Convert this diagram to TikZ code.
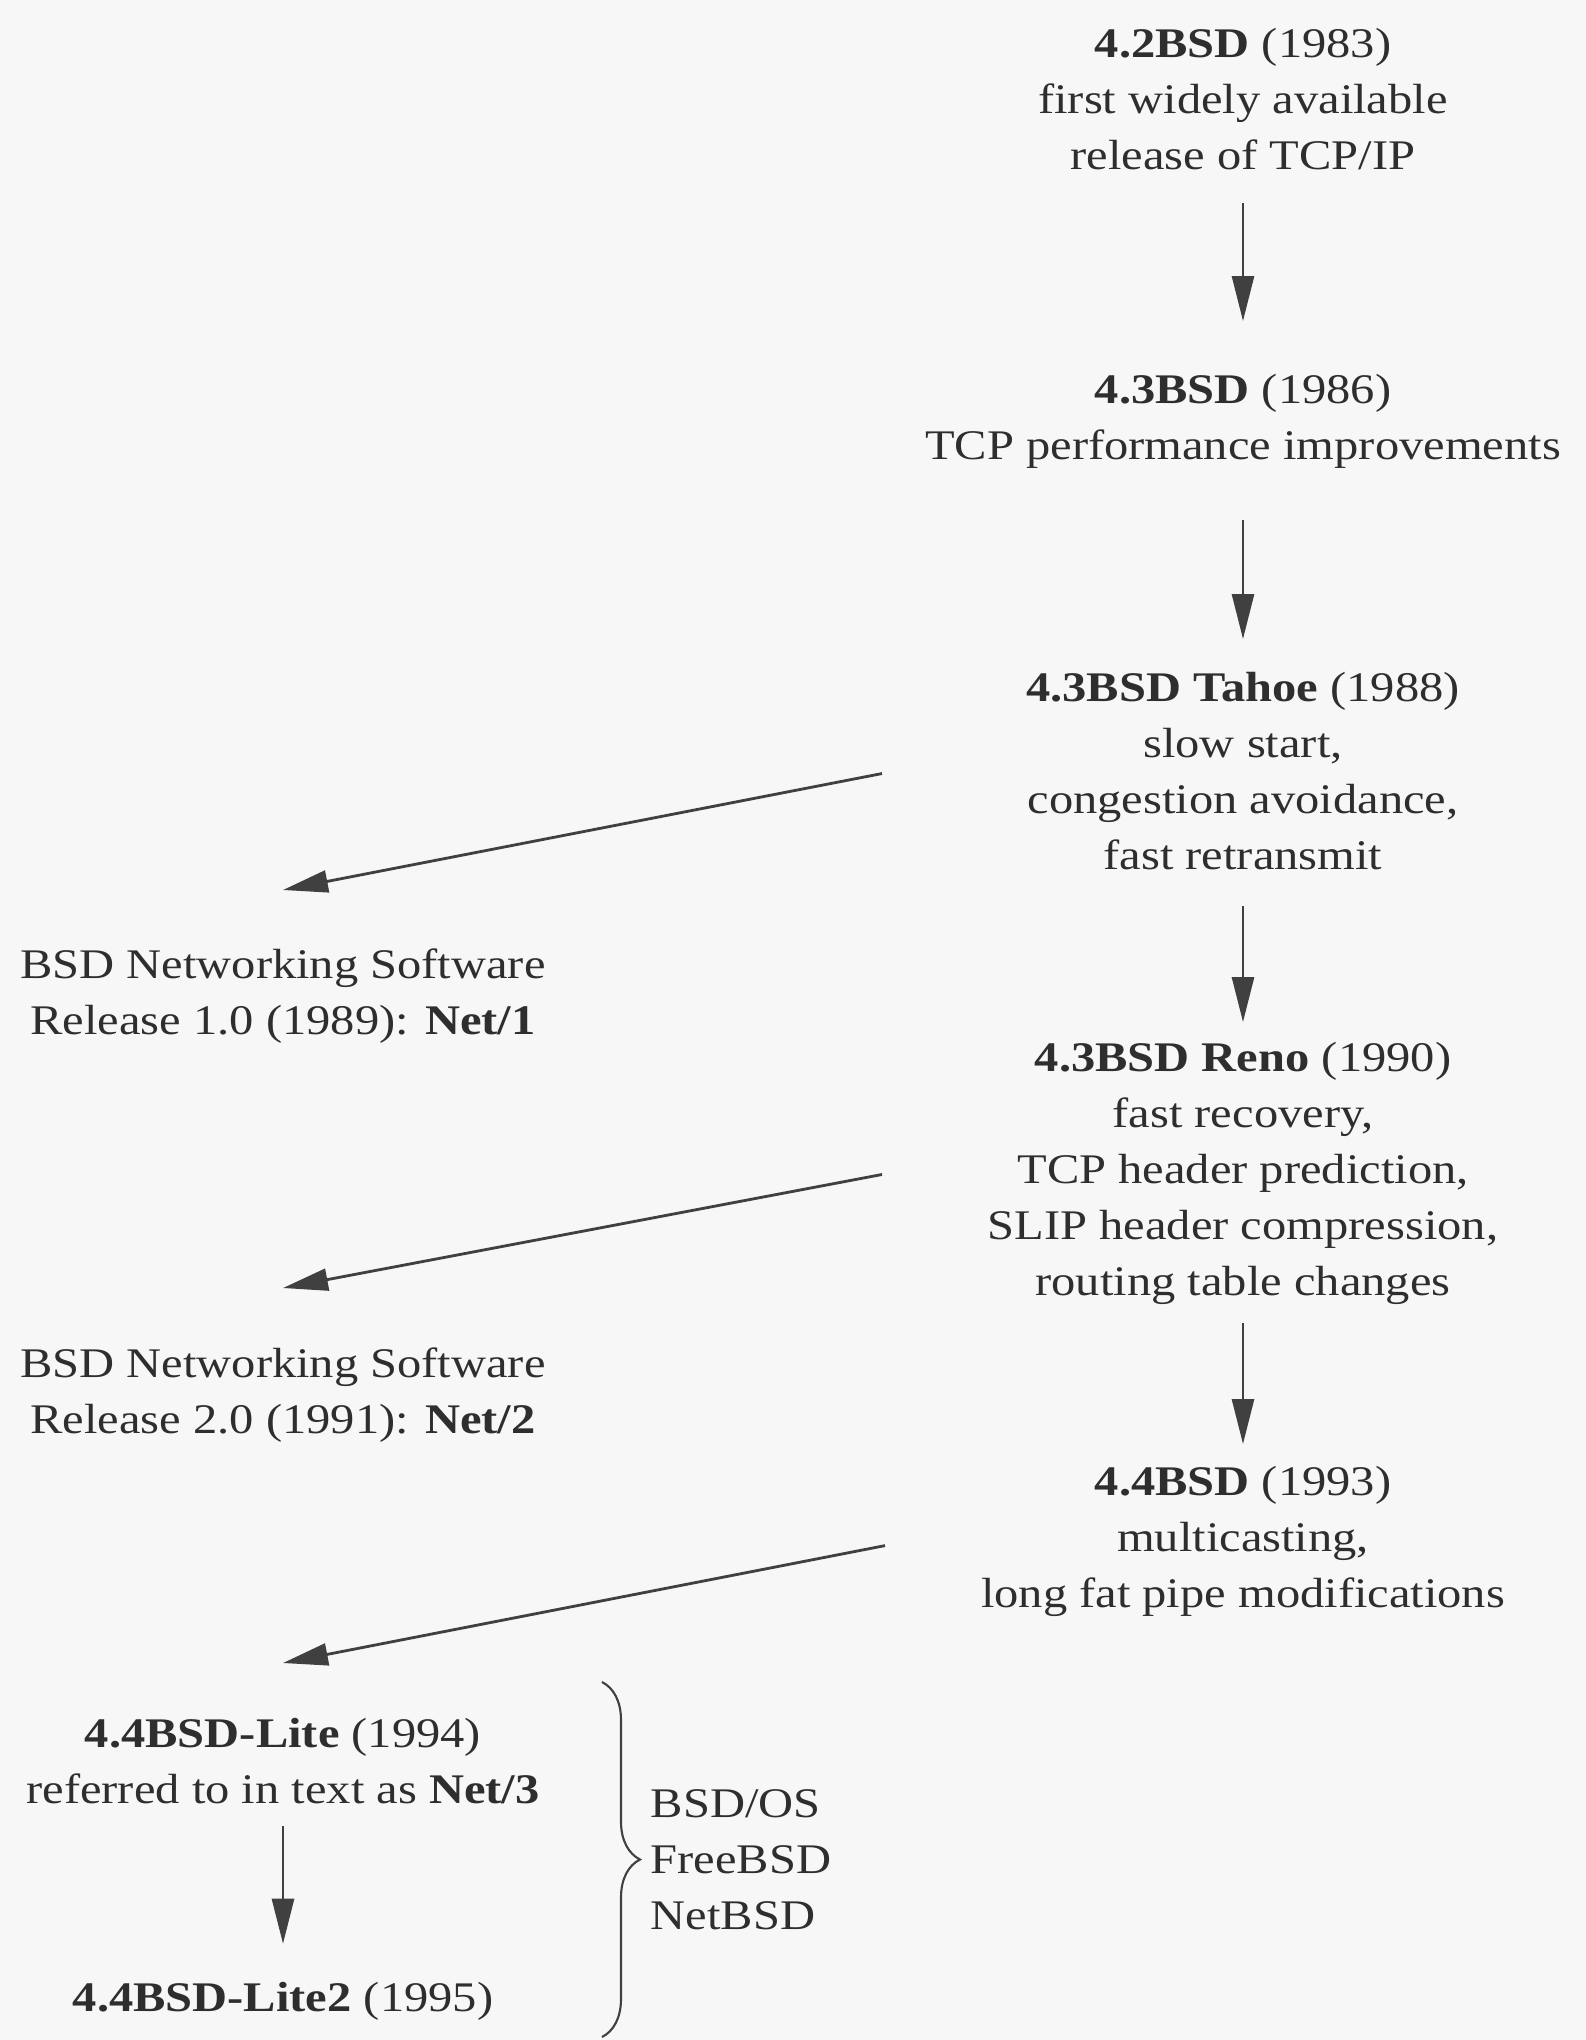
\documentclass[tikz,border=0pt]{standalone}
\usepackage{fontspec}
\setmainfont{Liberation Serif}[FakeStretch=1.15]
\usetikzlibrary{arrows.meta,decorations.pathreplacing}
\tikzset{
    release/.style={align=center, inner sep=0pt, text=black!82, font=\fontsize{12}{15.9}\selectfont,
        execute at begin node=\strut, execute at end node=\strut}, % 定义版本说明的样式
    arr/.style={draw=black!75, line width=0.8pt, -{Triangle[length=0.45cm, width=0.22cm]}} % 定义箭头的样式
}
\begin{document}
\begin{tikzpicture}
            \def\xmax{15.86} \def\ymin{-20.40}
            \useasboundingbox (0,0) rectangle (\xmax,\ymin);
            \fill[black!3] (0,0) rectangle (\xmax,\ymin);

            \node[release, anchor=north] (b42) at (12.43,-0.28) {\textbf{4.2BSD} (1983)\\first widely available\\release of TCP/IP};
            \node[release, anchor=north] (b43) at (12.43,-3.74) {\textbf{4.3BSD} (1986)\\TCP performance improvements};
            \node[release, anchor=north] (tahoe) at (12.43,-6.72) {\textbf{4.3BSD Tahoe} (1988)\\slow start,\\congestion avoidance,\\fast retransmit};
            \node[release, anchor=north] (reno) at (12.43,-10.42) {\textbf{4.3BSD Reno} (1990)\\fast recovery,\\TCP header prediction,\\SLIP header compression,\\routing table changes};
            \node[release, anchor=north] (b44) at (12.43,-14.66) {\textbf{4.4BSD} (1993)\\multicasting,\\long fat pipe modifications};

            \node[release, anchor=north] (net1) at (2.83,-9.48) {BSD Networking Software\\Release 1.0 (1989): \textbf{Net/1}};
            \node[release, anchor=north] (net2) at (2.83,-13.47) {BSD Networking Software\\Release 2.0 (1991): \textbf{Net/2}};
            \node[release, anchor=north] (lite) at (2.83,-17.18) {\textbf{4.4BSD-Lite} (1994)\\referred to in text as \textbf{Net/3}};
            \node[release, anchor=north] (lite2) at (2.83,-19.717) {\textbf{4.4BSD-Lite2} (1995)};
            \node[release, align=left, anchor=north west] (bsds) at (6.50,-17.89) {BSD/OS\\FreeBSD\\NetBSD};

            \draw[arr, shorten <=0.16cm, shorten >=0.53cm] (b42.south) -- (b43.north);
            \draw[arr, shorten <=0.43cm, shorten >=0.33cm] (b43.south) -- (tahoe.north);
            \draw[arr, shorten <=0.19cm, shorten >=0.20cm] (tahoe.south) -- (reno.north);
            \draw[arr, shorten <=0.10cm, shorten >=0.22cm] (reno.south) -- (b44.north);
            \draw[arr, shorten <=0.05cm, shorten >=0.28cm] (lite.south) -- (lite2.north);

            \draw[arr] ([xshift=-3.61cm,yshift=0.06cm]tahoe.center) -- ([yshift=0.58cm]net1.north);
            \draw[arr] ([xshift=-3.61cm,yshift=0.03cm]reno.center) -- ([yshift=0.59cm]net2.north);
            \draw[arr] ([xshift=-3.58cm]b44.center) -- ([yshift=0.55cm]lite.north);

            \coordinate (brtop) at (6.02,-16.82);
            \coordinate (brbot) at (6.02,-20.37);
            \draw[black!75, line width=0.6pt, decorate, decoration={brace, amplitude=0.38cm}] (brtop) -- (brbot);
\end{tikzpicture}
\end{document}
